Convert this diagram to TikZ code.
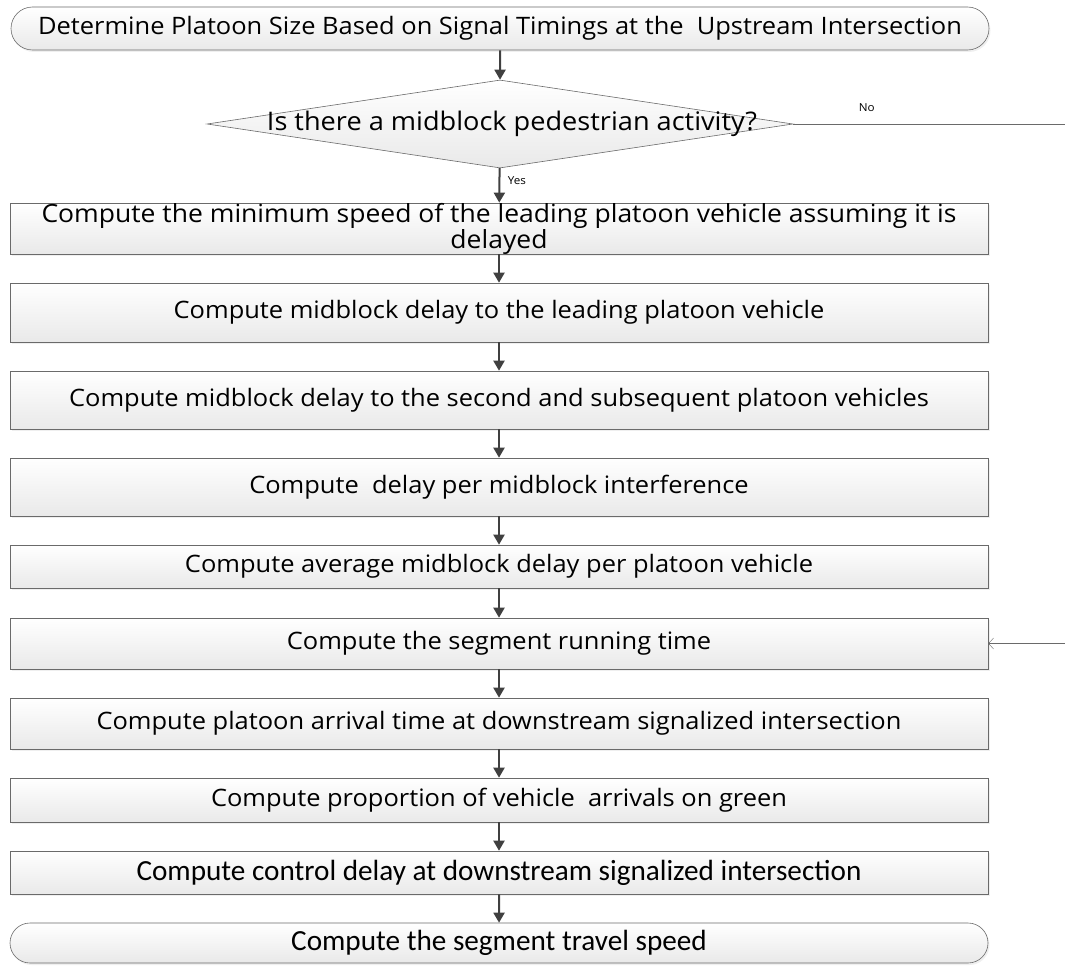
\documentclass[tikz,border=0pt]{standalone}
\usepackage{fontspec}
\setmainfont[FakeStretch=1.06]{Open Sans}
\newfontfamily\calibrifont{Carlito}
\usetikzlibrary{arrows.meta,shapes.geometric,shapes.misc,shadows}

\definecolor{boxline}{HTML}{6A6A6A}
\definecolor{boxlow}{HTML}{E9E9E9}
\definecolor{flowline}{HTML}{404040}

\tikzset{
	process/.style={rectangle, draw=boxline, semithick, top color=white, bottom color=boxlow,
		minimum width=978pt, inner sep=0pt, align=center, font=\fontsize{24}{24}\selectfont,
		drop shadow={shadow xshift=1.5pt, shadow yshift=-2pt, fill=black!12}},
	terminal/.style={process, rounded rectangle, rounded rectangle arc length=180},
	decision/.style={diamond, draw=boxline, semithick, top color=white, bottom color=boxlow,
		minimum width=586pt, minimum height=88pt, inner sep=0pt},
	flow/.style={-{Triangle[length=10pt,width=11pt]}, draw=flowline, line width=2pt},
	feed/.style={-{Straight Barb[length=5pt,width=11pt]}, draw=boxline, thin},
	small/.style={font=\fontsize{11}{11}\selectfont},
	calib/.style={font=\calibrifont\fontsize{29.2}{29.2}\selectfont}
}

\begin{document}
\begin{tikzpicture}[x=1pt,y=-1pt]
	
	\useasboundingbox (0,0) rectangle (1065,966);
	
	% Inicio
	\node[terminal, minimum height=43pt] (start) at (500,28.5)
	{Determine Platoon Size Based on Signal Timings at the~ Upstream Intersection};
	
	% Pregunta
	\node[decision] (ped) at (500,124) {};
	\node[font=\fontsize{25.6}{25.6}\selectfont, xshift=12pt] at (ped.center) {Is there a midblock pedestrian activity?};
	
	% Pasos
	\node[process, minimum height=51pt, font=\fontsize{25}{26}\selectfont] (speed) at (499,228.5)
	{Compute the minimum speed of the leading platoon vehicle assuming it is\\ delayed};
	
	\node[process, minimum height=59pt] (lead) at (499,312.5)
	{Compute midblock delay to the leading platoon vehicle};
	
	\node[process, minimum height=58pt] (second) at (499,400)
	{Compute midblock delay to the second and subsequent platoon vehicles};
	
	\node[process, minimum height=58pt] (interf) at (499,487)
	{Compute~ delay per midblock interference};
	
	\node[process, minimum height=43pt] (average) at (499,566.5)
	{Compute average midblock delay per platoon vehicle};
	
	\node[process, minimum height=51pt] (running) at (499,643.5)
	{Compute the segment running time};
	
	\node[process, minimum height=51pt] (arrival) at (499,723.5)
	{Compute platoon arrival time at downstream signalized intersection};
	
	\node[process, minimum height=44pt] (green) at (499,800)
	{Compute proportion of vehicle~ arrivals on green};
	
	\node[process, minimum height=43pt, calib] (control) at (499,872.5)
	{Compute control delay at downstream signalized intersection};
	
	% Fin
	\node[terminal, minimum height=40pt, calib] (travel) at (499,943)
	{Compute the segment travel speed};
	
	
	% Flechas
	\draw[flow] (start) -- (ped);
	\draw[flow] (ped) -- node[small, right, pos=0.35, xshift=4pt] {Yes} (speed);
	\draw[flow] (speed) -- (lead);
	\draw[flow] (lead) -- (second);
	\draw[flow] (second) -- (interf);
	\draw[flow] (interf) -- (average);
	\draw[flow] (average) -- (running);
	\draw[flow] (running) -- (arrival);
	\draw[flow] (arrival) -- (green);
	\draw[flow] (green) -- (control);
	\draw[flow] (control) -- (travel);
	
	% Rama No
	\coordinate (noend) at (1065,124);
	\coordinate (back) at (1065,643.5);
	\draw[boxline, thin] (ped.east) -- node[small, above, pos=0.27, yshift=9pt, black] {No} (noend);
	\draw[feed] (back) -- (running.east);
	
\end{tikzpicture}
\end{document}
